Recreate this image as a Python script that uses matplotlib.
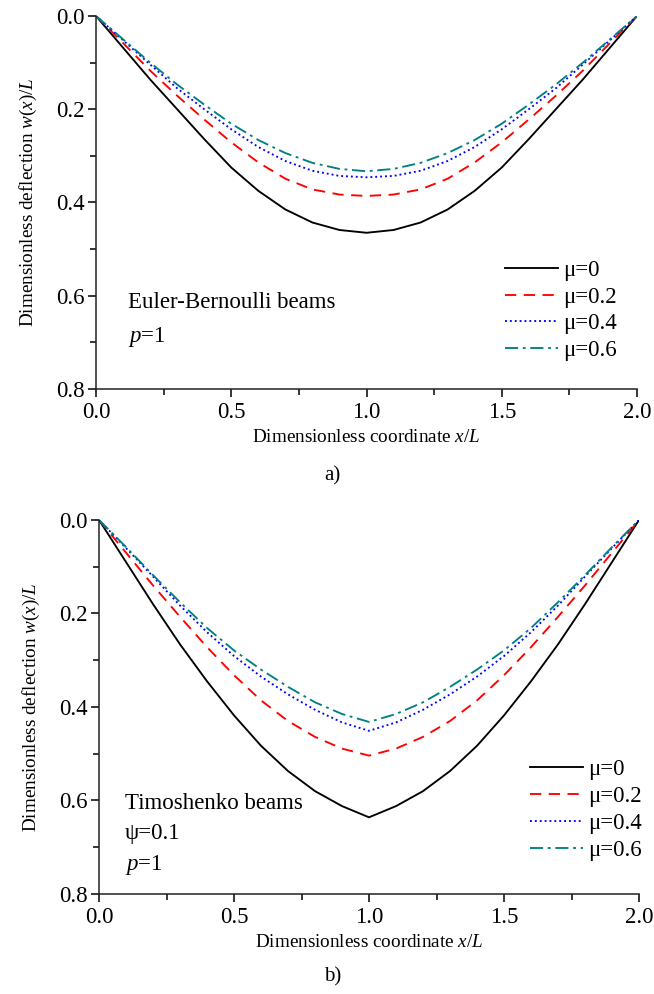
import matplotlib
matplotlib.use("Agg")
import matplotlib.pyplot as plt
from matplotlib.ticker import MultipleLocator

plt.rcParams["font.family"] = ["Liberation Serif", "DejaVu Serif"]
plt.rcParams["mathtext.fontset"] = "custom"
plt.rcParams["mathtext.rm"] = "Liberation Serif"
plt.rcParams["mathtext.it"] = "Liberation Serif:italic"

# x/L positions (same grid for both panels)
x = [0.0, 0.1, 0.2, 0.3, 0.4, 0.5, 0.6, 0.7, 0.8, 0.9, 1.0,
     1.1, 1.2, 1.3, 1.4, 1.5, 1.6, 1.7, 1.8, 1.9, 2.0]

# a) Euler-Bernoulli beams, w(x)/L
eb_mu0 = [0.0, 0.068, 0.136, 0.200, 0.264, 0.325, 0.375, 0.415, 0.443, 0.459, 0.465,
          0.459, 0.443, 0.415, 0.375, 0.325, 0.264, 0.200, 0.136, 0.068, 0.0]
eb_mu2 = [0.0, 0.058, 0.117, 0.171, 0.222, 0.271, 0.314, 0.349, 0.372, 0.383, 0.386,
          0.383, 0.372, 0.349, 0.314, 0.271, 0.222, 0.171, 0.117, 0.058, 0.0]
eb_mu4 = [0.0, 0.052, 0.104, 0.155, 0.200, 0.243, 0.281, 0.311, 0.332, 0.343, 0.346,
          0.343, 0.332, 0.311, 0.281, 0.243, 0.200, 0.155, 0.104, 0.052, 0.0]
eb_mu6 = [0.0, 0.050, 0.100, 0.147, 0.190, 0.231, 0.266, 0.294, 0.315, 0.328, 0.333,
          0.328, 0.315, 0.294, 0.266, 0.231, 0.190, 0.147, 0.100, 0.050, 0.0]

# b) Timoshenko beams, w(x)/L
tb_mu0 = [0.0, 0.090, 0.180, 0.266, 0.345, 0.418, 0.483, 0.537, 0.580, 0.612, 0.636,
          0.612, 0.580, 0.537, 0.483, 0.418, 0.345, 0.266, 0.180, 0.090, 0.0]
tb_mu2 = [0.0, 0.070, 0.140, 0.207, 0.272, 0.332, 0.386, 0.430, 0.464, 0.489, 0.504,
          0.489, 0.464, 0.430, 0.386, 0.332, 0.272, 0.207, 0.140, 0.070, 0.0]
tb_mu4 = [0.0, 0.060, 0.121, 0.183, 0.240, 0.291, 0.335, 0.373, 0.406, 0.433, 0.451,
          0.433, 0.406, 0.373, 0.335, 0.291, 0.240, 0.183, 0.121, 0.060, 0.0]
tb_mu6 = [0.0, 0.058, 0.118, 0.176, 0.231, 0.279, 0.320, 0.357, 0.390, 0.415, 0.432,
          0.415, 0.390, 0.357, 0.320, 0.279, 0.231, 0.176, 0.118, 0.058, 0.0]

labels = ["μ=0", "μ=0.2", "μ=0.4", "μ=0.6"]
colors = ["black", "#ff0000", "#0000ff", "#008080"]
styles = ["-", (0, (6, 4)), (0, (1, 1.6)), (0, (7, 2.5, 1.5, 2.5))]

FS_TXT = 16.5   # ticks, legend, notes
FS_LAB = 13.8   # axis labels

fig = plt.figure(figsize=(6.54, 9.94), dpi=100)
ax_a = fig.add_axes([0.1468, 0.6087, 0.8272, 0.3752])
ax_b = fig.add_axes([0.1514, 0.1006, 0.8257, 0.3763])


def draw_panel(ax, series, notes, legend_anchor):
    for ys, lab, c, ls in zip(series, labels, colors, styles):
        ax.plot(x, ys, color=c, linestyle=ls, linewidth=1.35, label=lab)
    ax.set_xlim(0, 2.0)
    ax.set_ylim(0.8, 0.0)
    ax.xaxis.set_major_locator(MultipleLocator(0.5))
    ax.xaxis.set_minor_locator(MultipleLocator(0.25))
    ax.yaxis.set_major_locator(MultipleLocator(0.2))
    ax.yaxis.set_minor_locator(MultipleLocator(0.1))
    ax.xaxis.set_major_formatter(plt.FormatStrFormatter("%.1f"))
    ax.yaxis.set_major_formatter(plt.FormatStrFormatter("%.1f"))
    ax.tick_params(which="major", direction="out", length=6, width=1.1,
                   labelsize=FS_TXT, pad=2)
    ax.tick_params(axis="x", which="major", pad=3.5)
    ax.tick_params(which="minor", direction="out", length=4, width=1.1)
    for s in ["top", "right"]:
        ax.spines[s].set_visible(False)
    for s in ["left", "bottom"]:
        ax.spines[s].set_linewidth(1.1)
        ax.spines[s].set_color("#222222")
    ax.set_xlabel("Dimensionless coordinate $x/L$", fontsize=FS_LAB, labelpad=4)
    ax.set_ylabel("Dimensionless deflection $w(x)/L$", fontsize=FS_LAB, labelpad=12.5)
    for tx, ty, txt in notes:
        ax.text(tx, ty, txt, transform=ax.transAxes, fontsize=FS_TXT,
                va="center", ha="left")
    ax.legend(loc="lower right", bbox_to_anchor=legend_anchor, frameon=False,
              fontsize=FS_TXT, handlelength=2.3, handletextpad=0.22,
              labelspacing=0.25, borderaxespad=0)


draw_panel(ax_a, [eb_mu0, eb_mu2, eb_mu4, eb_mu6],
           [(0.059, 0.233, "Euler-Bernoulli beams"),
            (0.059, 0.139, "$p$=1")],
           (0.979, 0.05))
draw_panel(ax_b, [tb_mu0, tb_mu2, tb_mu4, tb_mu6],
           [(0.048, 0.243, "Timoshenko beams"),
            (0.048, 0.163, "ψ=0.1"),
            (0.048, 0.078, "$p$=1")],
           (1.022, 0.065))

fig.text(0.508, 1 - 476 / 994, "a)", fontsize=15, ha="center", va="center")
fig.text(0.508, 1 - 977 / 994, "b)", fontsize=15, ha="center", va="center")

fig.savefig("out.png", dpi=100)
